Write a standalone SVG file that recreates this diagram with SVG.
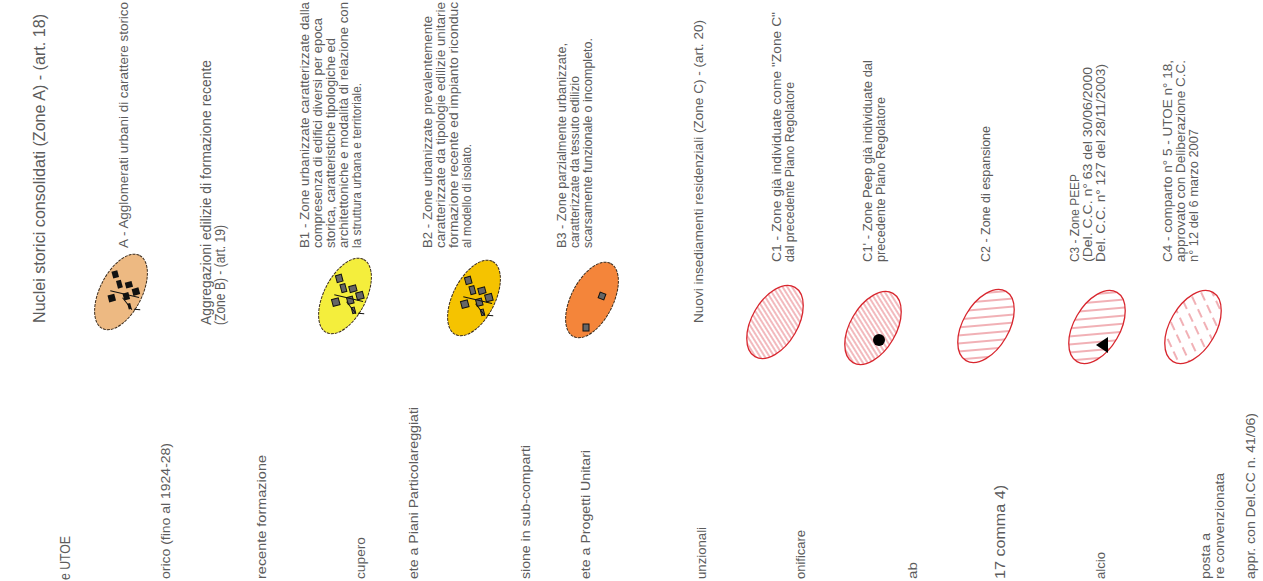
<svg xmlns="http://www.w3.org/2000/svg" width="1263" height="581" viewBox="0 0 1263 581">
<style>
text{font-family:"Liberation Sans",Arial,sans-serif;fill:#5c5c5c;}
.h{font-size:14px;}
.t{font-size:13px;}
.zone{stroke:#3a2a1a;stroke-width:1;stroke-dasharray:3 1;}
.red{stroke:#d8262e;stroke-width:1.3;}
.bk{fill:#111;}
.bg{fill:#666;stroke:#111;stroke-width:1;}
.rd{stroke:#111;stroke-width:1;fill:none;}
</style>
<defs>
<pattern id="hD" patternUnits="userSpaceOnUse" width="4" height="4" patternTransform="rotate(28)"><rect width="4" height="4" fill="#fff"/><line x1="1" y1="0" x2="1" y2="4" stroke="#e0505a" stroke-width="0.8"/></pattern>
<pattern id="hS" patternUnits="userSpaceOnUse" width="8" height="8" patternTransform="rotate(-35)"><rect width="8" height="8" fill="#fff"/><line x1="1" y1="0" x2="1" y2="8" stroke="#e0505a" stroke-width="0.9"/></pattern>
<pattern id="hDash" patternUnits="userSpaceOnUse" width="10" height="14" patternTransform="rotate(35)"><rect width="10" height="14" fill="#fff"/><line x1="2" y1="0" x2="2" y2="9" stroke="#e0505a" stroke-width="0.9"/></pattern>
<g id="bld">
<rect x="-4" y="-22" width="6" height="7"/>
<rect x="-2" y="-12" width="5" height="8"/>
<rect x="6" y="-8" width="7" height="6"/>
<rect x="-14" y="0" width="7" height="7"/>
<rect x="1" y="2" width="6" height="7"/>
<rect x="11" y="0" width="7" height="7"/>
<rect x="3" y="13" width="3" height="6"/>
</g>
<path id="roads" d="M-10 -4 L16 10 M0 6 L6 20 M8 20 L14 22"/>
</defs>

<g id="header-A"><text class="h" style="font-size:16px" textLength="309" lengthAdjust="spacingAndGlyphs" transform="translate(45,323) rotate(-90)">Nuclei storici consolidati (Zone A) - (art. 18)</text></g>

<g id="zone-A">
<ellipse class="zone" fill="#edb982" cx="0" cy="0" rx="41" ry="21" transform="translate(121,292) rotate(-63)"/>
<g transform="translate(121,292) rotate(-15)"><use href="#bld" class="bk"/><use href="#roads" class="rd"/></g>
<text class="t" textLength="246" lengthAdjust="spacingAndGlyphs" transform="translate(128,248) rotate(-90)">A - Agglomerati urbani di carattere storico</text>
</g>

<g id="header-B"><text class="h" textLength="265" lengthAdjust="spacingAndGlyphs" transform="translate(211,325) rotate(-90)">Aggregazioni edilizie di formazione recente</text><text class="h" textLength="100" lengthAdjust="spacingAndGlyphs" transform="translate(225,325) rotate(-90)">(Zone B) - (art. 19)</text></g>

<g id="zone-B1">
<ellipse class="zone" fill="#f4ee3c" cx="0" cy="0" rx="41" ry="21" transform="translate(345,296) rotate(-63)"/>
<g transform="translate(345,296) rotate(-15)"><use href="#bld" class="bg"/><use href="#roads" class="rd"/></g>
<text class="t" textLength="246" lengthAdjust="spacingAndGlyphs" transform="translate(309,248) rotate(-90)">B1 - Zone urbanizzate caratterizzate dalla</text>
<text class="t" textLength="230" lengthAdjust="spacingAndGlyphs" transform="translate(322,248) rotate(-90)">compresenza di edifici diversi per epoca</text>
<text class="t" textLength="210" lengthAdjust="spacingAndGlyphs" transform="translate(335,248) rotate(-90)">storica, caratteristiche tipologiche ed</text>
<text class="t" textLength="246" lengthAdjust="spacingAndGlyphs" transform="translate(348,248) rotate(-90)">architettoniche e modalità di relazione con</text>
<text class="t" textLength="165" lengthAdjust="spacingAndGlyphs" transform="translate(361,248) rotate(-90)">la struttura urbana e territoriale.</text>
</g>

<g id="zone-B2">
<ellipse class="zone" fill="#f5c300" cx="0" cy="0" rx="41" ry="21" transform="translate(474,298) rotate(-63)"/>
<g transform="translate(474,298) rotate(-15)"><use href="#bld" class="bg"/><use href="#roads" class="rd"/></g>
<text class="t" textLength="232" lengthAdjust="spacingAndGlyphs" transform="translate(432,248) rotate(-90)">B2 - Zone urbanizzate prevalentemente</text>
<text class="t" textLength="246" lengthAdjust="spacingAndGlyphs" transform="translate(445,248) rotate(-90)">caratterizzate da tipologie edilizie unitarie</text>
<text class="t" textLength="246" lengthAdjust="spacingAndGlyphs" transform="translate(458,248) rotate(-90)">formazione recente ed impianto riconduc</text>
<text class="t" textLength="104" lengthAdjust="spacingAndGlyphs" transform="translate(471,248) rotate(-90)">al modello di isolato.</text>
</g>

<g id="zone-B3">
<ellipse class="zone" fill="#f4853a" cx="0" cy="0" rx="41" ry="21" transform="translate(592,300) rotate(-63)"/>
<rect class="bg" x="-3" y="-3" width="6" height="7" transform="translate(586,327)"/>
<rect class="bg" x="-3" y="-3" width="6" height="6" transform="translate(602,296) rotate(20)"/>
<text class="t" textLength="205" lengthAdjust="spacingAndGlyphs" transform="translate(566,248) rotate(-90)">B3 - Zone parzialmente urbanizzate,</text>
<text class="t" textLength="172" lengthAdjust="spacingAndGlyphs" transform="translate(579,248) rotate(-90)">caratterizzate da tessuto edilizio</text>
<text class="t" textLength="210" lengthAdjust="spacingAndGlyphs" transform="translate(592,248) rotate(-90)">scarsamente funzionale o incompleto.</text>
</g>

<g id="header-C"><text class="h" style="font-size:13.5px" textLength="303" lengthAdjust="spacingAndGlyphs" transform="translate(703,323) rotate(-90)">Nuovi insediamenti residenziali (Zone C) - (art. 20)</text></g>

<g id="zone-C1">
<ellipse class="red" cx="0" cy="0" rx="40" ry="23" transform="translate(775,322) rotate(-60)" style="fill:url(#hD)"/>
<text class="t" textLength="250" lengthAdjust="spacingAndGlyphs" transform="translate(781,262) rotate(-90)">C1 - Zone già individuate come "Zone C"</text>
<text class="t" textLength="180" lengthAdjust="spacingAndGlyphs" transform="translate(794,262) rotate(-90)">dal precedente Piano Regolatore</text>
</g>

<g id="zone-C1p">
<ellipse class="red" cx="0" cy="0" rx="40" ry="23" transform="translate(873,328) rotate(-60)" style="fill:url(#hD)"/>
<circle cx="879" cy="340" r="6" fill="#000"/>
<text class="t" textLength="202" lengthAdjust="spacingAndGlyphs" transform="translate(872,262) rotate(-90)">C1' - Zone Peep già individuate dal</text>
<text class="t" textLength="165" lengthAdjust="spacingAndGlyphs" transform="translate(885,262) rotate(-90)">precedente Piano Regolatore</text>
</g>

<g id="zone-C2">
<ellipse class="red" cx="0" cy="0" rx="40" ry="23" transform="translate(986,326) rotate(-60)" style="fill:url(#hS)"/>
<text class="t" textLength="136" lengthAdjust="spacingAndGlyphs" transform="translate(990,262) rotate(-90)">C2 - Zone di espansione</text>
</g>

<g id="zone-C3">
<ellipse class="red" cx="0" cy="0" rx="40" ry="23" transform="translate(1097,327) rotate(-60)" style="fill:url(#hS)"/>
<polygon points="1096,345 1108,337 1108,353" fill="#000"/>
<text class="t" textLength="88" lengthAdjust="spacingAndGlyphs" transform="translate(1079,262) rotate(-90)">C3 - Zone PEEP</text>
<text class="t" textLength="195" lengthAdjust="spacingAndGlyphs" transform="translate(1092,262) rotate(-90)">(Del. C.C. n° 63 del 30/06/2000</text>
<text class="t" textLength="198" lengthAdjust="spacingAndGlyphs" transform="translate(1105,262) rotate(-90)">Del. C.C. n° 127 del 28/11/2003)</text>
</g>

<g id="zone-C4">
<ellipse class="red" cx="0" cy="0" rx="40" ry="23" transform="translate(1193,327) rotate(-60)" style="fill:url(#hDash)"/>
<text class="t" textLength="202" lengthAdjust="spacingAndGlyphs" transform="translate(1172,262) rotate(-90)">C4 - comparto n° 5 - UTOE n° 18,</text>
<text class="t" textLength="202" lengthAdjust="spacingAndGlyphs" transform="translate(1185,262) rotate(-90)">approvato con Deliberazione C.C.</text>
<text class="t" textLength="133" lengthAdjust="spacingAndGlyphs" transform="translate(1198,262) rotate(-90)">n° 12 del 6 marzo 2007</text>
</g>

<g id="left-column">
<text class="h" textLength="44" lengthAdjust="spacingAndGlyphs" transform="translate(70,580) rotate(-90)">e UTOE</text>
<text class="t" textLength="136" lengthAdjust="spacingAndGlyphs" transform="translate(170,579) rotate(-90)">orico (fino al 1924-28)</text>
<text class="t" textLength="124" lengthAdjust="spacingAndGlyphs" transform="translate(266,579) rotate(-90)">recente formazione</text>
<text class="t" textLength="42" lengthAdjust="spacingAndGlyphs" transform="translate(365,579) rotate(-90)">cupero</text>
<text class="t" textLength="172" lengthAdjust="spacingAndGlyphs" transform="translate(418,579) rotate(-90)">ete a Piani Particolareggiati</text>
<text class="t" textLength="134" lengthAdjust="spacingAndGlyphs" transform="translate(530,579) rotate(-90)">sione in sub-comparti</text>
<text class="t" textLength="129" lengthAdjust="spacingAndGlyphs" transform="translate(590,579) rotate(-90)">ete a Progetti Unitari</text>
<text class="t" textLength="52" lengthAdjust="spacingAndGlyphs" transform="translate(706,579) rotate(-90)">unzionali</text>
<text class="t" textLength="49" lengthAdjust="spacingAndGlyphs" transform="translate(805,579) rotate(-90)">onificare</text>
<text class="t" textLength="17" lengthAdjust="spacingAndGlyphs" transform="translate(917,579) rotate(-90)">ab</text>
<text class="h" textLength="94" lengthAdjust="spacingAndGlyphs" transform="translate(1005,579) rotate(-90)">17 comma 4)</text>
<text class="t" textLength="27" lengthAdjust="spacingAndGlyphs" transform="translate(1105,579) rotate(-90)">alcio</text>
<text class="t" textLength="46" lengthAdjust="spacingAndGlyphs" transform="translate(1210,579) rotate(-90)">posta a</text>
<text class="t" textLength="106" lengthAdjust="spacingAndGlyphs" transform="translate(1224,579) rotate(-90)">re convenzionata</text>
<text class="t" textLength="166" lengthAdjust="spacingAndGlyphs" transform="translate(1255,579) rotate(-90)">appr. con Del.CC n. 41/06)</text>
</g>
</svg>
